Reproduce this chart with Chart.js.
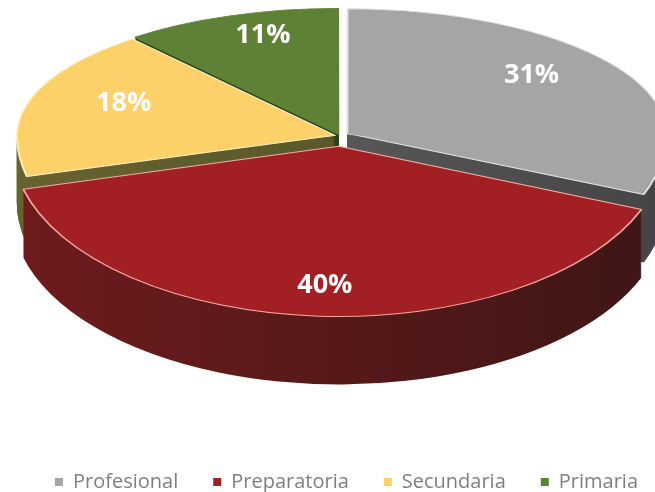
<!DOCTYPE html>
<html>
<head>
<meta charset="utf-8">
<script src="https://cdn.jsdelivr.net/npm/chart.js@4.4.0/dist/chart.umd.min.js"></script>
<style>
  html, body { margin: 0; padding: 0; background: #fff; overflow: hidden; }
</style>
</head>
<body>
<canvas id="pie" width="655" height="492"></canvas>
<script>
// values
const categories = ["Profesional", "Preparatoria", "Secundaria", "Primaria"];
const shares = [31, 40, 18, 11];
const pctLabels = ["31%", "40%", "18%", "11%"];

// colours: top face, thin edge, side wall (light end, dark end)
const topColors = ["#A5A5A5", "#A21F24", "#FCD16A", "#5E8136"];
const edgeColors = ["#E2E2E2", "#F0A8A0", "#FFF0C0", "#5E8136"];
const sideLight = ["#6A6A6A", "#6E1B1D", "#66632F", "#2F4A1C"];
const sideDark = ["#454545", "#3F1616", "#4F4D26", "#22361A"];
const explode = [22, 48, 12, 12];

// where the tilted pie sits on the page, in pixels
const PIE_X = 340, PIE_Y = 136;
const RAD_X = 318, RAD_TOP = 125, RAD_BOTTOM = 166;
const DEPTH = 68;
const LABEL_X = 0.7, LABEL_Y = 0.84;

// where a slice really sits once Chart.js has pulled it out
function sliceGeom(arc) {
  const off = (arc.options.offset || 0) / 4;
  const mid = (arc.startAngle + arc.endAngle) / 2;
  const circ = arc.endAngle - arc.startAngle;
  const radOff = off * (1 - Math.sin(Math.min(Math.PI, circ)));
  const R = arc.outerRadius + radOff;
  const beta = Math.max(0.001, circ * R - radOff / Math.PI) / R;
  const trim = (circ - beta) / 2;
  return {
    x: arc.x + Math.cos(mid) * off,
    y: arc.y + Math.sin(mid) * off,
    r: R, start: arc.startAngle + trim, end: arc.endAngle - trim, mid: mid
  };
}

// run fn twice: far half squashed more than the near half (fake perspective)
function eachHalf(ctx, arc, shift, fn) {
  const cx = arc.x, cy = arc.y, r = arc.outerRadius;
  [true, false].forEach(far => {
    ctx.save();
    ctx.translate(PIE_X, PIE_Y + shift);
    ctx.scale(RAD_X / r, (far ? RAD_TOP : RAD_BOTTOM) / r);
    ctx.translate(-cx, -cy);
    ctx.beginPath();
    if (far) ctx.rect(cx - 2 * r, cy - 2 * r, 4 * r, 2 * r + 1);
    else ctx.rect(cx - 2 * r, cy, 4 * r, 2 * r);
    ctx.clip();
    fn();
    ctx.restore();
  });
}

function toScreen(arc, px, py) {
  const r = arc.outerRadius;
  const sy = (py < arc.y ? RAD_TOP : RAD_BOTTOM) / r;
  return [PIE_X + (px - arc.x) * RAD_X / r, PIE_Y + (py - arc.y) * sy];
}

const tiltPlugin = {
  id: "tilt",
  beforeDatasetsDraw(chart) {
    const ctx = chart.ctx;
    const arcs = chart.getDatasetMeta(0).data;
    const base = arcs[0];

    // far slices first so the near ones cover their walls
    const order = arcs.map((a, i) => i).sort((a, b) =>
      Math.sin(sliceGeom(arcs[a]).mid) - Math.sin(sliceGeom(arcs[b]).mid));

    order.forEach(i => {
      const g = sliceGeom(arcs[i]);
      const grad = ctx.createLinearGradient(base.x - base.outerRadius, 0, base.x + base.outerRadius, 0);
      grad.addColorStop(0, sideLight[i]);
      grad.addColorStop(1, sideDark[i]);
      for (let d = DEPTH; d >= 1; d--) {
        eachHalf(ctx, base, d, () => {
          ctx.fillStyle = grad;
          ctx.beginPath();
          ctx.moveTo(g.x, g.y);
          ctx.arc(g.x, g.y, g.r, g.start, g.end);
          ctx.closePath();
          ctx.fill();
        });
      }
    });

    // top faces come from the arc elements themselves
    arcs.forEach(arc => eachHalf(ctx, base, 0, () => arc.draw(ctx)));
    return false;
  },
  afterDraw(chart) {
    const ctx = chart.ctx;
    const arcs = chart.getDatasetMeta(0).data;
    const base = arcs[0];
    ctx.save();
    ctx.fillStyle = "#FFFFFF";
    ctx.font = "bold 27px 'Open Sans', sans-serif";
    ctx.textAlign = "center";
    ctx.textBaseline = "middle";
    arcs.forEach((arc, i) => {
      const g = sliceGeom(arc);
      const px = g.x + Math.cos(g.mid) * arc.outerRadius * LABEL_X;
      const py = g.y + Math.sin(g.mid) * arc.outerRadius * LABEL_Y;
      const p = toScreen(base, px, py);
      ctx.fillText(pctLabels[i], p[0], p[1]);
    });
    ctx.restore();
  }
};

new Chart(document.getElementById("pie"), {
  type: "pie",
  data: {
    labels: categories,
    datasets: [{
      data: shares,
      backgroundColor: topColors,
      borderColor: edgeColors,
      borderWidth: 1.2,
      offset: explode,
      clip: false
    }]
  },
  options: {
    responsive: false,
    animation: false,
    devicePixelRatio: 1,
    events: [],
    layout: { padding: { right: -18, bottom: -10 } },
    plugins: {
      legend: {
        position: "bottom",
        align: "end",
        labels: {
          boxWidth: 8,
          boxHeight: 8,
          padding: 35,
          color: "#7F7F7F",
          font: { family: "Open Sans", size: 20 },
          generateLabels(chart) {
            const items = Chart.overrides.pie.plugins.legend.labels.generateLabels(chart);
            items.forEach(it => { it.strokeStyle = it.fillStyle; it.lineWidth = 0; });
            return items;
          }
        }
      },
      tooltip: { enabled: false }
    }
  },
  plugins: [tiltPlugin]
});
</script>
</body>
</html>
